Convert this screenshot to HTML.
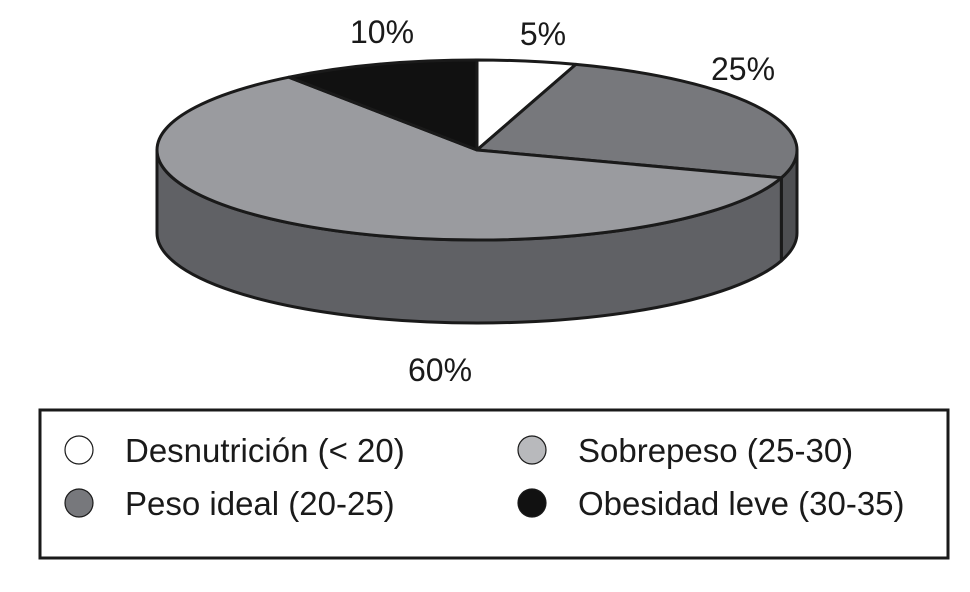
<!DOCTYPE html>
<html><head><meta charset="utf-8"><style>
body{margin:0;background:#fff;width:970px;height:587px;overflow:hidden}
text{font-family:"Liberation Sans",sans-serif;fill:#1a1a1a}
</style></head><body>
<svg id="chart" width="970" height="587" viewBox="0 0 970 587" xmlns="http://www.w3.org/2000/svg">
<g id="sides"></g>
<g id="tops"></g>
<g id="labels"></g>
<rect x="40" y="410" width="908" height="148" fill="none" stroke="#1a1a1a" stroke-width="3"/>
<g id="legend"></g>
</svg>
<script>
const categories = ["Desnutrición (< 20)", "Peso ideal (20-25)", "Sobrepeso (25-30)", "Obesidad leve (30-35)"];
const values = [5, 25, 60, 10];
const valueLabels = ["5%", "25%", "60%", "10%"];

const topColors = ["#ffffff", "#77787c", "#9a9b9f", "#111111"];
const sideColors = ["#dddddd", "#4e4f52", "#606165", "#111111"];
const cx = 477, cy = 150, rx = 320, ry = 90, depth = 83;
const NS = "http://www.w3.org/2000/svg";
function pt(deg, dy) { const r = deg * Math.PI / 180; return [cx + rx * Math.sin(r), cy - ry * Math.cos(r) + (dy || 0)]; }
const total = values.reduce((a, b) => a + b, 0);
const sides = document.getElementById("sides"), tops = document.getElementById("tops"), labels = document.getElementById("labels"), legend = document.getElementById("legend");
let acc = 0;
const labelPos = [[543, 45], [743, 80], [440, 381], [382, 43]];
values.forEach((v, i) => {
  const a1 = acc / total * 360, a2 = (acc + v) / total * 360; acc += v;
  const s1 = Math.max(a1, 90), s2 = Math.min(a2, 270);
  if (s2 > s1) {
    const p1 = pt(s1), p2 = pt(s2), q2 = pt(s2, depth), q1 = pt(s1, depth);
    const lg = (s2 - s1) > 180 ? 1 : 0;
    const side = document.createElementNS(NS, "path");
    side.setAttribute("d", `M${p1[0]},${p1[1]} A${rx},${ry} 0 ${lg} 1 ${p2[0]},${p2[1]} L${q2[0]},${q2[1]} A${rx},${ry} 0 ${lg} 0 ${q1[0]},${q1[1]} Z`);
    side.setAttribute("fill", sideColors[i]);
    side.setAttribute("stroke", "#1a1a1a"); side.setAttribute("stroke-width", "3"); side.setAttribute("stroke-linejoin", "round");
    
    
    sides.appendChild(side);
  }
  const p1 = pt(a1), p2 = pt(a2), lg = (a2 - a1) > 180 ? 1 : 0;
  const top = document.createElementNS(NS, "path");
  top.setAttribute("d", `M${cx},${cy} L${p1[0]},${p1[1]} A${rx},${ry} 0 ${lg} 1 ${p2[0]},${p2[1]} Z`);
  top.setAttribute("fill", topColors[i]);
  top.setAttribute("stroke", "#1a1a1a"); top.setAttribute("stroke-width", "3"); top.setAttribute("stroke-linejoin", "round");
  
  
  tops.appendChild(top);
  const t = document.createElementNS(NS, "text");
  t.setAttribute("x", labelPos[i][0]); t.setAttribute("y", labelPos[i][1]);
  t.setAttribute("font-size", "32"); t.setAttribute("text-anchor", "middle");
  t.textContent = valueLabels[i];
  
  
  labels.appendChild(t);
});
const legendOrder = [0, 2, 1, 3];
const legPos = [[79, 450], [532, 450], [79, 503], [532, 503]];
legendOrder.forEach((ci, k) => {
  const [x, y] = legPos[k];
  const c = document.createElementNS(NS, "circle");
  c.setAttribute("cx", x); c.setAttribute("cy", y); c.setAttribute("r", 14);
  c.setAttribute("fill", ci === 2 ? "#b8b9bc" : topColors[ci]);
  c.setAttribute("stroke", "#1a1a1a"); c.setAttribute("stroke-width", "1.2");
  
  
  legend.appendChild(c);
  const t = document.createElementNS(NS, "text");
  t.setAttribute("x", x + 46); t.setAttribute("y", y + 12);
  t.setAttribute("font-size", "33");
  t.textContent = categories[ci];
  
  
  legend.appendChild(t);
});
</script>
</body></html>
